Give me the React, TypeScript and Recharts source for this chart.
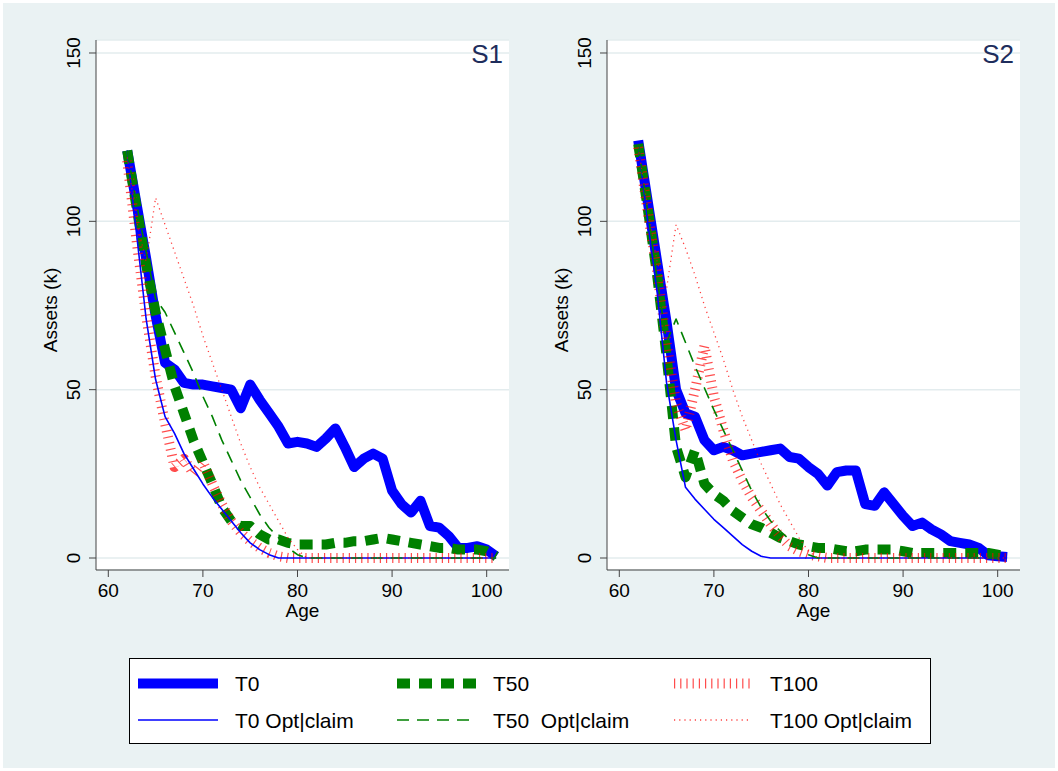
import React from "react";
import { LineChart, Line, XAxis, YAxis, CartesianGrid } from "recharts";

const FONT = "'Liberation Sans', Arial, Helvetica, sans-serif";

// Categories
const ages = [62, 63, 64, 65, 66, 67, 68, 69, 70, 71, 72, 73, 74, 75, 76, 77, 78, 79, 80, 81,
  82, 83, 84, 85, 86, 87, 88, 89, 90, 91, 92, 93, 94, 95, 96, 97, 98, 99, 100, 101];

const xTicks = [60, 70, 80, 90, 100];
const yTicks = [0, 50, 100, 150];

// Panel S1
const s1T0 = [121, 105, 89, 72, 58, 56, 52, 51.5, 51.5, 51, 50.5, 50, 44.5, 51.5, 47, 43, 39, 34, 34.5, 34,
  33, 35.5, 38.5, 33, 27, 29.5, 31, 29.5, 20, 16, 13.5, 17, 9.5, 9, 6.5, 3, 3, 3.5, 2.5, 0.5];
const s1T50 = [121, 104, 87, 73, 62, 51, 43, 35, 28.5, 22, 15, 11, 9.5, 9.5, 7, 5.5, 5.5, 4.5, 4, 4,
  4, 4, 4.5, 4.5, 5, 5, 5.5, 6, 5.5, 5, 4.5, 4, 3.5, 3, 3, 2.5, 2.5, 2.5, 2, 0.5];
const s1T100 = [118, 94, 72, 54, 40, 27, 29.5, 25, 28.5, 22, 16, 11, 7.5, 5, 3, 1.5, 0.5, 0, 0, 0,
  0, 0, 0, 0, 0, 0, 0, 0, 0, 0, 0, 0, 0, 0, 0, 0, 0, 0, 0, 0];
const s1T0Opt = [121, 96, 71, 53, 42, 37, 31, 26.5, 22, 18, 14.5, 11, 7.5, 4.5, 2.5, 1, 0, 0, 0, 0,
  0, 0, 0, 0, 0, 0, 0, 0, 0, 0, 0, 0, 0, 0, 0, 0, 0, 0, 0, 0];
const s1T50Opt = [121, 105, 91, 77, 73, 67, 61, 55, 48, 42, 35, 29, 23, 18, 13, 9, 6, 3, 1, 0,
  0, 0, 0, 0, 0, 0, 0, 0, 0, 0, 0, 0, 0, 0, 0, 0, 0, 0, 0, 0];
const s1T100Opt = [119, 100, 88, 107, 99, 91, 83, 75, 66, 58, 50, 42, 34, 27, 21, 16, 11, 6, 2.5, 0,
  0, 0, 0, 0, 0, 0, 0, 0, 0, 0, 0, 0, 0, 0, 0, 0, 0, 0, 0, 0];

// Panel S2
const s2T0 = [124, 106, 88, 70, 50, 43, 42, 35, 32, 33, 32, 30.5, 31, 31.5, 32, 32.5, 30, 29.5, 27, 25,
  21.5, 25.5, 26, 26, 16, 15.5, 19.5, 16, 12.5, 9.5, 10.5, 8.5, 7, 5, 4.5, 4, 3, 0.8, 0.5, 0.3];
const s2T50 = [123, 104, 84, 60, 33, 24, 32, 22, 19, 17, 14, 12, 10, 9, 7.5, 6, 5, 4, 3.5, 3,
  3, 2.5, 2, 2, 2.5, 2.5, 2.5, 2.5, 2, 1.5, 1.5, 1.5, 1.5, 1.5, 1.5, 1.5, 1.5, 1.5, 1, 0.5];
const s2T100 = [122, 103, 85, 64, 46, 38, 50, 63, 48, 38, 29, 23, 18, 14, 10, 6.5, 3.5, 2, 1, 0.5,
  0, 0, 0, 0, 0, 0, 0, 0, 0, 0, 0, 0, 0, 0, 0, 0, 0, 0, 0, 0];
const s2T0Opt = [123, 100, 79, 52, 35, 21, 17.5, 14.5, 11.5, 9, 6.5, 4, 2, 0.5, 0, 0, 0, 0, 0, 0,
  0, 0, 0, 0, 0, 0, 0, 0, 0, 0, 0, 0, 0, 0, 0, 0, 0, 0, 0, 0];
const s2T50Opt = [123, 103, 83, 64, 71, 64, 57, 50.5, 44, 38, 32, 26, 20, 15, 11, 8, 5.5, 3, 1, 0,
  0, 0, 0, 0, 0, 0, 0, 0, 0, 0, 0, 0, 0, 0, 0, 0, 0, 0, 0, 0];
const s2T100Opt = [122, 104, 88, 80, 99, 92, 84, 75, 67, 59, 50, 42, 35, 28, 22, 16, 11, 6, 2, 0,
  0, 0, 0, 0, 0, 0, 0, 0, 0, 0, 0, 0, 0, 0, 0, 0, 0, 0, 0, 0];

const seriesNames = ["T0", "T50", "T100", "T0 Opt|claim", "T50  Opt|claim", "T100 Opt|claim"];
const panelTitles = ["S1", "S2"];

type Style = {
  stroke: string;
  strokeWidth: number;
  strokeDasharray?: string;
  strokeOpacity?: number;
};

const styles: Record<string, Style> = {
  t0: { stroke: "#0000FF", strokeWidth: 10 },
  t50: { stroke: "#008000", strokeWidth: 10, strokeDasharray: "13 9" },
  t100: { stroke: "#FF0000", strokeWidth: 10, strokeDasharray: "1.2 5", strokeOpacity: 0.7 },
  t0opt: { stroke: "#0000FF", strokeWidth: 1.6 },
  t50opt: { stroke: "#008000", strokeWidth: 1.6, strokeDasharray: "12 8" },
  t100opt: { stroke: "#FF0000", strokeWidth: 1.3, strokeDasharray: "1.2 4", strokeOpacity: 0.75 },
};
const keys = ["t0", "t50", "t100", "t0opt", "t50opt", "t100opt"];

function buildRows(t0: number[], t50: number[], t100: number[], t0o: number[], t50o: number[], t100o: number[]) {
  return ages.map((age, i) => ({
    age,
    t0: t0[i],
    t50: t50[i],
    t100: t100[i],
    t0opt: t0o[i],
    t50opt: t50o[i],
    t100opt: t100o[i],
  }));
}

const panels = [
  buildRows(s1T0, s1T50, s1T100, s1T0Opt, s1T50Opt, s1T100Opt),
  buildRows(s2T0, s2T50, s2T100, s2T0Opt, s2T50Opt, s2T100Opt),
];

const CHART_W = 530;
const CHART_H = 640;
const PANEL_X = [0, 511];

const YTick = (props: any) => {
  const { y, payload } = props;
  const bx = 80;
  return (
    <text
      x={bx}
      y={y}
      transform={`rotate(-90, ${bx}, ${y})`}
      textAnchor="middle"
      fontSize={19}
      fontFamily={FONT}
      fill="#000"
    >
      {payload.value}
    </text>
  );
};

const YLabel = () => (
  <text
    x={57}
    y={310}
    transform="rotate(-90, 57, 310)"
    textAnchor="middle"
    fontSize={19}
    fontFamily={FONT}
    fill="#000"
  >
    Assets (k)
  </text>
);

const XLabel = () => (
  <text x={302.5} y={617} textAnchor="middle" fontSize={19} fontFamily={FONT} fill="#000">
    Age
  </text>
);

function Panel({ data, idx }: { data: any[]; idx: number }) {
  return (
    <div style={{ position: "absolute", left: PANEL_X[idx], top: 0 }}>
      <LineChart
        width={CHART_W}
        height={CHART_H}
        data={data}
        margin={{ top: 40, right: 21, bottom: 0, left: 0 }}
      >
        <CartesianGrid vertical={false} stroke="#E3ECEE" strokeWidth={1.5} fill="#FFFFFF" />
        <XAxis
          dataKey="age"
          type="number"
          domain={[58.7, 102.36]}
          allowDataOverflow
          ticks={xTicks}
          height={70}
          tickSize={7}
          tickMargin={7}
          axisLine={{ stroke: "#444", strokeWidth: 1 }}
          tickLine={{ stroke: "#444", strokeWidth: 1 }}
          tick={{ fill: "#000", fontSize: 19, fontFamily: FONT }}
          label={{ content: () => <XLabel /> }}
        />
        <YAxis
          type="number"
          domain={[-3.564, 153.86]}
          allowDataOverflow
          ticks={yTicks}
          width={96}
          tickSize={7}
          axisLine={{ stroke: "#444", strokeWidth: 1 }}
          tickLine={{ stroke: "#444", strokeWidth: 1 }}
          tick={<YTick />}
          label={{ content: () => <YLabel /> }}
        />
        {keys.map((k, i) => (
          <Line
            key={k}
            type="linear"
            dataKey={k}
            name={seriesNames[i]}
            dot={false}
            activeDot={false}
            isAnimationActive={false}
            strokeLinejoin="round"
            strokeLinecap="butt"
            {...styles[k]}
          />
        ))}
      </LineChart>
      <svg
        width={CHART_W}
        height={CHART_H}
        style={{ position: "absolute", left: 0, top: 0, pointerEvents: "none" }}
      >
        <text x={503} y={62.5} textAnchor="end" fontSize={26} fontFamily={FONT} fill="#1E2D5C">
          {panelTitles[idx]}
        </text>
      </svg>
    </div>
  );
}

function LegendBox() {
  const cols = [
    { sx: 138, ex: 218, tx: 235 },
    { sx: 397, ex: 477, tx: 493 },
    { sx: 674, ex: 750, tx: 770 },
  ];
  const rows = [{ cy: 683.5, by: 691 }, { cy: 720, by: 728 }];
  return (
    <svg
      width={1058}
      height={771}
      style={{ position: "absolute", left: 0, top: 0, pointerEvents: "none" }}
    >
      <rect x={129.5} y={658.5} width={801} height={85} fill="#FFFFFF" stroke="#000" strokeWidth={1} />
      {keys.map((k, i) => {
        const c = cols[i % 3];
        const r = rows[Math.floor(i / 3)];
        const st = styles[k];
        return (
          <g key={k}>
            <line
              x1={c.sx}
              x2={c.ex}
              y1={r.cy}
              y2={r.cy}
              stroke={st.stroke}
              strokeWidth={st.strokeWidth}
              strokeDasharray={st.strokeDasharray}
              strokeOpacity={st.strokeOpacity}
            />
            <text x={c.tx} y={r.by} fontSize={21} fontFamily={FONT} fill="#000" style={{ whiteSpace: "pre" }}>
              {seriesNames[i]}
            </text>
          </g>
        );
      })}
    </svg>
  );
}

export default function App() {
  return (
    <div style={{ position: "relative", width: 1058, height: 771, background: "#FFFFFF", overflow: "hidden" }}>
      <style>{"body{margin:0;}"}</style>
      <div
        style={{
          position: "absolute",
          left: 3,
          top: 3,
          width: 1052,
          height: 765,
          background: "#EAF2F3",
        }}
      />
      {panels.map((d, i) => (
        <Panel key={i} data={d} idx={i} />
      ))}
      <LegendBox />
    </div>
  );
}
